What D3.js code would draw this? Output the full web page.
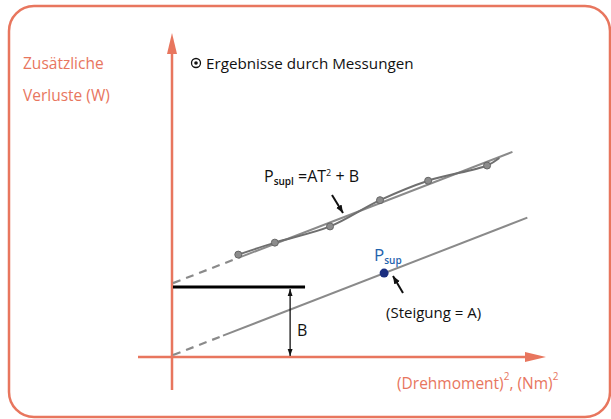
<!DOCTYPE html>
<html><head><meta charset="utf-8">
<script src="https://cdn.jsdelivr.net/npm/d3@7"></script>
<style>
html,body{margin:0;padding:0;background:#fff;}
text{font-family:"Open Sans",sans-serif;}
</style></head>
<body>
<svg id="c" width="611" height="419"></svg>
<script>
// ---- data (arbitrary units: T^2 on x, losses on y) ----
const fitUpper = [{x:0,y:22.8},{x:91,y:63.3}];
const fitUpperDashEnd = 18;
const fitLower = [{x:0,y:0.6},{x:95,y:43}];
const fitLowerDashEnd = 13.4;
const measurements = [
  {x:17.5,y:31.6},{x:27.3,y:35.3},{x:42.1,y:40.3},
  {x:55.5,y:48.4},{x:68.4,y:54.4},{x:84.2,y:59.1},{x:87.5,y:61.4}
];
const pSup = {x:56.6,y:25.9};
const bLevel = 21.6;
const bLineEnd = 35.4;
const bArrowX = 31.4;

const salmon = "#e8765e";
const svg = d3.select("#c");
const x = d3.scaleLinear().domain([0,100]).range([173,546]);
const y = d3.scaleLinear().domain([0,100]).range([357,33]);

// frame
svg.append("rect").attr("x",9).attr("y",6).attr("width",601).attr("height",411)
  .attr("rx",25).attr("fill","none").attr("stroke",salmon).attr("stroke-width",2.5);

const defs = svg.append("defs");
defs.append("marker").attr("id","ah").attr("viewBox","0 0 10 10").attr("refX",10).attr("refY",5)
  .attr("markerWidth",8).attr("markerHeight",8).attr("markerUnits","userSpaceOnUse").attr("orient","auto-start-reverse")
  .append("path").attr("d","M0,1 L10,5 L0,9 Z").attr("fill","#111");
defs.append("marker").attr("id","ahs").attr("viewBox","0 0 10 10").attr("refX",10).attr("refY",5)
  .attr("markerWidth",7).attr("markerHeight",7).attr("markerUnits","userSpaceOnUse").attr("orient","auto-start-reverse")
  .append("path").attr("d","M0,1.5 L10,5 L0,8.5 Z").attr("fill","#111");

// axes
const gAx = svg.append("g");
gAx.append("line").attr("x1",x(0)-1).attr("x2",x(0)-1).attr("y1",390).attr("y2",52)
  .attr("stroke",salmon).attr("stroke-width",2.5);
gAx.append("path").attr("d",`M${x(0)-1},33 L${x(0)-6},54 L${x(0)+4},54 Z`).attr("fill",salmon);
gAx.append("line").attr("x1",138).attr("x2",526).attr("y1",y(0)).attr("y2",y(0))
  .attr("stroke",salmon).attr("stroke-width",2.5);
gAx.append("path").attr("d",`M546,${y(0)} L525,${y(0)-5} L525,${y(0)+5} Z`).attr("fill",salmon);

// axis labels
svg.append("text").attr("x",23).attr("y",69).attr("font-size",15.5).attr("fill",salmon).text("Zusätzliche");
svg.append("text").attr("x",23).attr("y",101).attr("font-size",15.5).attr("fill",salmon).text("Verluste (W)");
const xl = svg.append("text").attr("x",397).attr("y",389).attr("font-size",15.5).attr("fill",salmon);
xl.append("tspan").text("(Drehmoment)");
xl.append("tspan").attr("dy",-9).attr("font-size",10).text("2");
xl.append("tspan").attr("dy",9).text(", (Nm)");
xl.append("tspan").attr("dy",-9).attr("font-size",10).text("2");

// legend
svg.append("circle").attr("cx",196).attr("cy",63).attr("r",4.5).attr("fill","none").attr("stroke","#111").attr("stroke-width",1.3);
svg.append("circle").attr("cx",196).attr("cy",63).attr("r",1.8).attr("fill","#111");
svg.append("text").attr("x",206).attr("y",69).attr("font-size",15.2).attr("fill","#111").text("Ergebnisse durch Messungen");

// fit lines
function drawFit(data, dashEnd){
  const slope = (data[1].y-data[0].y)/(data[1].x-data[0].x);
  const mid = {x:dashEnd, y:data[0].y + slope*dashEnd};
  svg.append("line").attr("x1",x(data[0].x)).attr("y1",y(data[0].y)).attr("x2",x(mid.x)).attr("y2",y(mid.y))
    .attr("stroke","#8a8a8a").attr("stroke-width",2.2).attr("stroke-dasharray","8,6");
  svg.append("line").attr("x1",x(mid.x)).attr("y1",y(mid.y)).attr("x2",x(data[1].x)).attr("y2",y(data[1].y))
    .attr("stroke","#8a8a8a").attr("stroke-width",2);
}
drawFit(fitUpper, fitUpperDashEnd);
drawFit(fitLower, fitLowerDashEnd);

// measured curve
svg.append("path").datum(measurements)
  .attr("d", d3.line().x(d=>x(d.x)).y(d=>y(d.y)).curve(d3.curveCatmullRom))
  .attr("fill","none").attr("stroke","#6f6f6f").attr("stroke-width",2);
svg.selectAll("circle.m").data(measurements.slice(0,6)).join("circle").attr("class","m")
  .attr("cx",d=>x(d.x)).attr("cy",d=>y(d.y)).attr("r",3.5)
  .attr("fill","#8c8c8c").attr("stroke","#666").attr("stroke-width",1);

// B level line & arrow
svg.append("line").attr("x1",x(0)).attr("x2",x(bLineEnd)).attr("y1",y(bLevel)).attr("y2",y(bLevel))
  .attr("stroke","#000").attr("stroke-width",3);
svg.append("line").attr("x1",x(bArrowX)).attr("x2",x(bArrowX)).attr("y1",y(bLevel)+2).attr("y2",y(0)-1)
  .attr("stroke","#111").attr("stroke-width",1.3)
  .attr("marker-start","url(#ahs)").attr("marker-end","url(#ahs)");
svg.append("text").attr("x",297).attr("y",336).attr("font-size",16).attr("fill","#111").text("B");

// formula label
const f = svg.append("text").attr("x",264).attr("y",182).attr("font-size",16).attr("fill","#111");
f.append("tspan").text("P");
f.append("tspan").attr("dy",3).attr("font-size",10).attr("font-weight","600").text("supl");
f.append("tspan").attr("dy",-3).text(" =AT");
f.append("tspan").attr("dy",-6).attr("font-size",9).text("2");
f.append("tspan").attr("dy",6).text(" + B");
svg.append("line").attr("x1",332).attr("y1",195).attr("x2",343).attr("y2",213)
  .attr("stroke","#111").attr("stroke-width",2).attr("marker-end","url(#ah)");

// Psup point
svg.append("circle").attr("cx",x(pSup.x)).attr("cy",y(pSup.y)).attr("r",4.5).attr("fill","#1b2f80");
const ps = svg.append("text").attr("x",374).attr("y",261).attr("font-size",17).attr("fill","#1f63ad");
ps.append("tspan").text("P");
ps.append("tspan").attr("dy",3).attr("font-size",10).attr("font-weight","600").text("sup");
svg.append("line").attr("x1",403).attr("y1",293).attr("x2",393).attr("y2",276)
  .attr("stroke","#111").attr("stroke-width",2).attr("marker-end","url(#ah)");
svg.append("text").attr("x",386).attr("y",318).attr("font-size",15).attr("fill","#111").text("(Steigung = A)");
</script>
</body></html>
